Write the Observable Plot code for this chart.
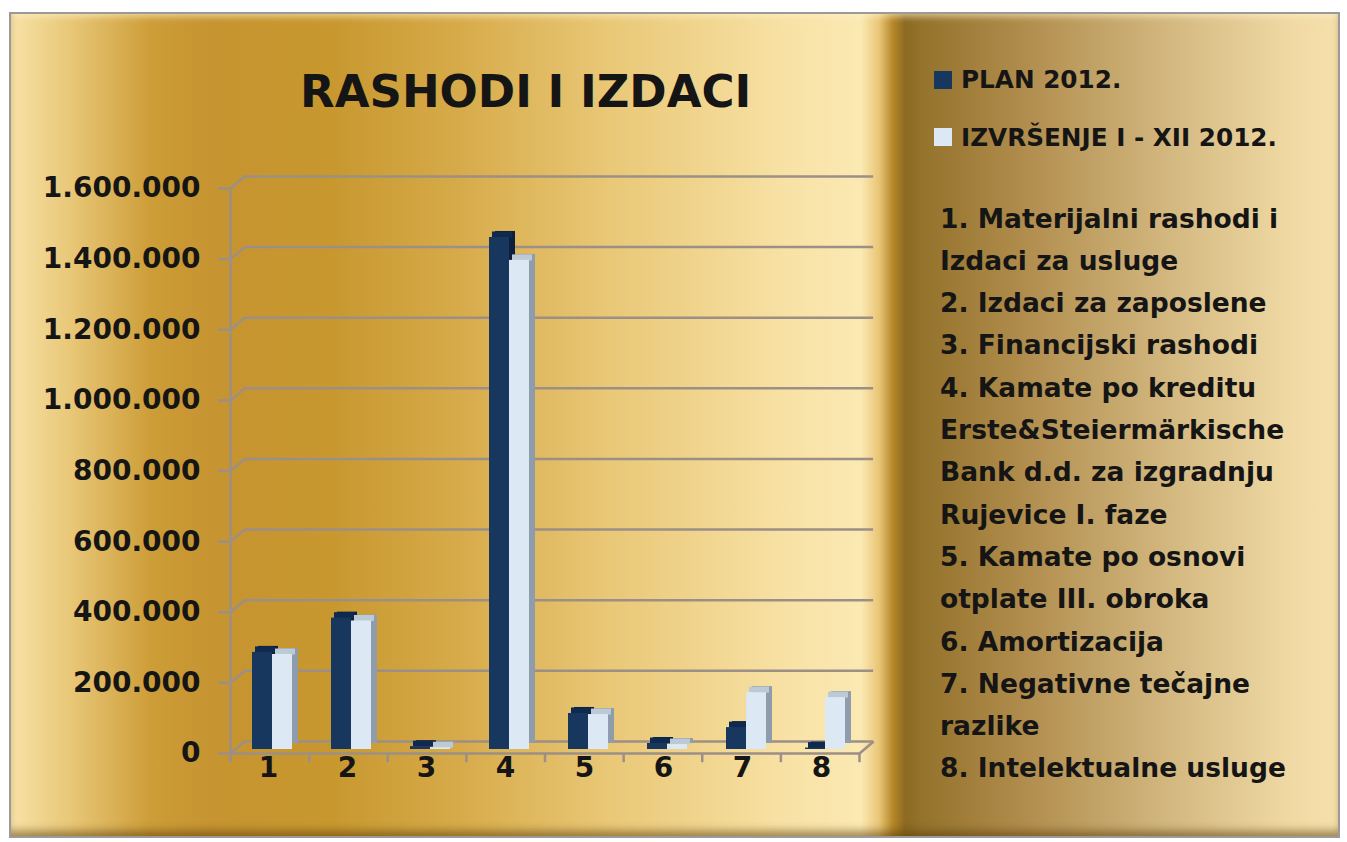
<!DOCTYPE html>
<html>
<head>
<meta charset="utf-8">
<script src="https://cdn.jsdelivr.net/npm/d3@7"></script>
<script src="https://cdn.jsdelivr.net/npm/@observablehq/plot@0.6"></script>
<style>
  html, body { margin: 0; padding: 0; background: #ffffff; }
  #wrap { position: relative; width: 1347px; height: 842px; overflow: hidden; font-family: "DejaVu Sans", sans-serif; font-weight: bold; color: #151515; }
  #panel {
    position: absolute; left: 9px; top: 12px; width: 1327px; height: 822px;
    border: 2px solid #9a9a9a;
    background: linear-gradient(90deg,
      #f7e2a6 0px, #e8c777 60px, #cd9d38 140px, #c69430 200px, #c8982f 320px,
      #d7ab4a 450px, #e9c877 600px, #f8e2a6 780px, #fbe9b3 850px,
      #e9c678 868px, #b58728 882px, #8d6a22 894px, #94732c 912px,
      #b08c4c 1010px, #d3b880 1160px, #f0d9a4 1280px, #f6e0ac 1331px);
    box-shadow: inset 0 -8px 8px -3px rgba(90,60,10,0.55), inset 0 6px 6px -3px rgba(255,240,200,0.6);
  }
  .layer { position: absolute; left: 0; top: 0; }
  #title { position: absolute; left: 300px; top: 65px; font-size: 45px; line-height: normal; white-space: nowrap; }
  .sw { position: absolute; width: 18px; height: 18px; }
  .ser { position: absolute; left: 961px; font-size: 24.7px; line-height: normal; white-space: nowrap; }
  #list { position: absolute; left: 940px; top: 197.6px; font-size: 26.5px; line-height: 42.3px; white-space: nowrap; }
</style>
</head>
<body>
<div id="wrap">
  <div id="panel"></div>
  <div id="back" class="layer"></div>
  <div id="front" class="layer"></div>
  <div id="title"></div>
  <div id="legend"></div>
  <div id="list"></div>
</div>
<script>
// ---- data ----
const categories = ["1", "2", "3", "4", "5", "6", "7", "8"];
const plan2012 = [275000, 372000, 8000, 1450000, 102000, 17000, 62000, 4000];
const izvrsenje2012 = [269000, 364000, 5000, 1385000, 99000, 14000, 161000, 147000];
const seriesNames = ["PLAN 2012.", "IZVRŠENJE I - XII 2012."];
const yTicks = [0, 200000, 400000, 600000, 800000, 1000000, 1200000, 1400000, 1600000];
const titleText = "RASHODI I IZDACI";
const legendLines = [
  "1. Materijalni rashodi  i",
  "Izdaci za usluge",
  "2. Izdaci za zaposlene",
  "3. Financijski rashodi",
  "4. Kamate po kreditu",
  "Erste&Steiermärkische",
  "Bank d.d. za izgradnju",
  "Rujevice I. faze",
  "5. Kamate po osnovi",
  "otplate III. obroka",
  "6. Amortizacija",
  "7. Negativne tečajne",
  "razlike",
  "8. Intelektualne usluge"
];

// ---- styling ----
const planColor = "#18375f", planSide = "#0c203d", planTop = "#0f2a4e";
const izvColor = "#dce9f5", izvSide = "#8e9cab", izvTop = "#bccad6";
const gridColor = "#9b8f86";
const W = 900, H = 842, mL = 230, mR = 41, mT = 188, mB = 89;
const depthX = 0.18;     // wall depth in category units
const depthY = 34000;    // wall depth in value units
const fmt = d => d3.format(",")(d).replace(/,/g, ".");

const rows = categories.map((c, i) => ({cat: c, plan: plan2012[i], izv: izvrsenje2012[i]}));
const nCat = categories.length;
const bounds = d3.range(nCat + 1);

const common = {
  width: W, height: H, marginLeft: mL, marginRight: mR, marginTop: mT, marginBottom: mB,
  style: {background: "transparent", fontFamily: "DejaVu Sans", fontWeight: "bold", fontSize: "28px", color: "#151515", overflow: "visible"}
};

// back layer: walls, grid, y axis
const back = Plot.plot({
  ...common,
  x: {domain: [0, nCat], axis: null},
  y: {domain: [0, 1600000], ticks: yTicks, tickSize: 0, tickPadding: 30, tickFormat: fmt, label: null},
  marks: [
    Plot.ruleY(yTicks, {x1: depthX, x2: nCat + depthX, y: d => d + depthY, stroke: gridColor, strokeWidth: 2.5}),
    Plot.link(yTicks, {x1: 0, y1: d => d, x2: depthX, y2: d => d + depthY, stroke: gridColor, strokeWidth: 2.5}),
    Plot.ruleY(yTicks, {x1: -0.15, x2: 0, y: d => d, stroke: gridColor, strokeWidth: 2.5}),
    Plot.ruleX([0], {y1: -26000, y2: 1600000, stroke: gridColor, strokeWidth: 2.5}),
    Plot.ruleY([0], {x1: 0, x2: nCat, stroke: gridColor, strokeWidth: 2.5}),
    Plot.link([0], {x1: nCat, y1: 0, x2: nCat + depthX, y2: depthY, stroke: gridColor, strokeWidth: 2.5}),
    Plot.ruleX(bounds, {y1: -26000, y2: 0, stroke: gridColor, strokeWidth: 2.5})
  ]
});
document.getElementById("back").appendChild(back);

// front layer: 3D-looking bars and category labels
const half = 20;
const front = Plot.plot({
  ...common,
  x: {domain: categories, paddingInner: 0.491, paddingOuter: 0.2, tickSize: 0, tickPadding: 4, label: null},
  y: {domain: [0, 1600000], axis: null},
  marks: [
    Plot.barY(rows, {x: "cat", y: "plan", insetRight: half, fill: planSide, dx: 10, dy: -10}),
    Plot.tickY(rows, {x: "cat", y: "plan", insetRight: half, stroke: planTop, strokeWidth: 6, dx: 7, dy: -7}),
    Plot.barY(rows, {x: "cat", y: "izv", insetLeft: half, fill: izvSide, dx: 10, dy: -10}),
    Plot.tickY(rows, {x: "cat", y: "izv", insetLeft: half, stroke: izvTop, strokeWidth: 6, dx: 7, dy: -7}),
    Plot.barY(rows, {x: "cat", y: "plan", insetRight: half, fill: planColor, dx: 4, dy: -4}),
    Plot.barY(rows, {x: "cat", y: "izv", insetLeft: half, fill: izvColor, dx: 4, dy: -4})
  ]
});
document.getElementById("front").appendChild(front);

// title & legend
document.getElementById("title").textContent = titleText;
const legend = document.getElementById("legend");
[[planColor, 71, 65], [izvColor, 128, 123]].forEach(([c, sy, ty], i) => {
  const s = document.createElement("div");
  s.className = "sw"; s.style.left = "934px"; s.style.top = sy + "px"; s.style.background = c;
  legend.appendChild(s);
  const t = document.createElement("div");
  t.className = "ser"; t.style.top = ty + "px"; t.textContent = seriesNames[i];
  legend.appendChild(t);
});
const list = document.getElementById("list");
legendLines.forEach(l => {
  const d = document.createElement("div");
  d.textContent = l;
  list.appendChild(d);
});
</script>
</body>
</html>
